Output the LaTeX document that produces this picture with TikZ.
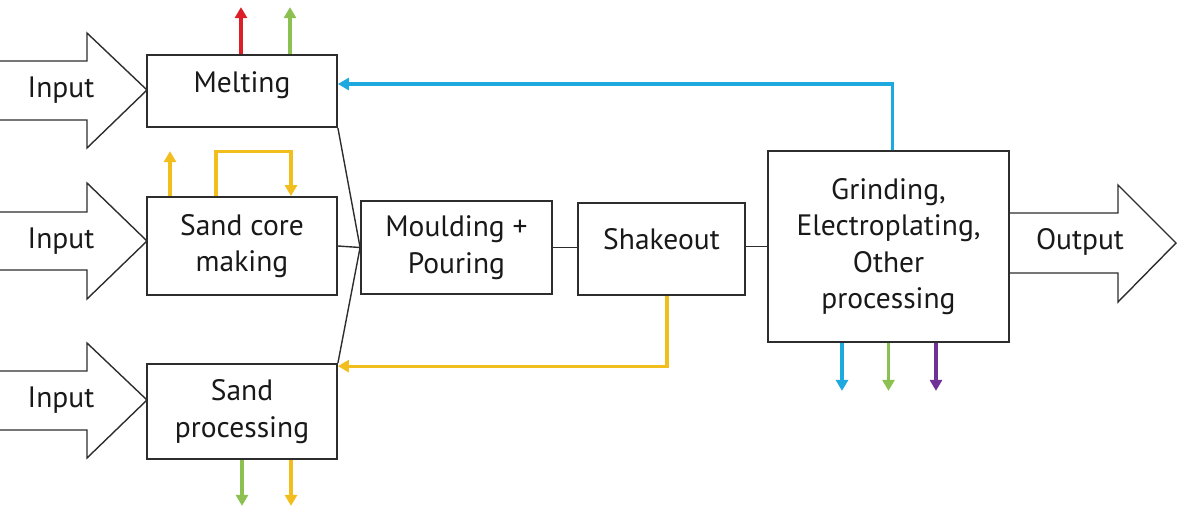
\documentclass[tikz,border=0pt]{standalone}
\usepackage{fontspec}
\setmainfont{PT Sans}
\usetikzlibrary{arrows.meta}
\definecolor{cred}{RGB}{220,30,38}
\definecolor{cgreen}{RGB}{140,192,80}
\definecolor{cyel}{RGB}{242,190,30}
\definecolor{cblue}{RGB}{30,170,222}
\definecolor{cpurp}{RGB}{112,50,152}
\definecolor{boxc}{RGB}{45,45,45}
\definecolor{txtc}{RGB}{25,25,25}
\begin{document}
\begin{tikzpicture}[x=1pt,y=-1pt,
  box/.style={draw=boxc, line width=1.8pt, fill=white, align=center, text=txtc,
    font=\fontsize{29.5}{36.5}\selectfont, inner sep=0pt},
  lbl/.style={font=\fontsize{29.5}{36.5}\selectfont, inner sep=0pt, text=txtc},
  conn/.style={draw=boxc, line width=1.4pt},
  bigarrow/.style={draw=boxc, line width=1.4pt, line join=miter},
  flow/.style={line width=3.2pt, -{Triangle[width=12pt,length=11pt]}}]
\useasboundingbox (0,0) rectangle (1178,507);

% big input/output arrows
\draw[bigarrow] (0,61) -- (87,61) -- (87,33) -- (147,90) -- (87,148) -- (87,120) -- (0,120);
\draw[bigarrow] (0,212) -- (87,212) -- (87,183) -- (147,241) -- (87,299) -- (87,270) -- (0,270);
\draw[bigarrow] (0,371) -- (87,371) -- (87,343) -- (147,400) -- (87,458) -- (87,430) -- (0,430);
\draw[bigarrow] (1009,213) -- (1118,213) -- (1118,185) -- (1176,243) -- (1118,302) -- (1118,273) -- (1009,273);
\node[lbl] (in1) at (61,90) {Input};
\node[lbl] (in2) at (61,241) {Input};
\node[lbl] (in3) at (61,400) {Input};
\node[lbl] (out) at (1080,242) {Output};

% boxes
\node[box, minimum width=190pt, text height=37pt, text depth=35pt] (melt) at (242,91) {Melting};
\node[box, minimum width=190pt, minimum height=98pt] (core) at (242,246) {Sand core\\making};
\node[box, minimum width=190pt, minimum height=95pt] (proc) at (242,411.5) {Sand\\processing};
\node[box, minimum width=191pt, minimum height=93pt] (mould) at (456.5,247.5) {Moulding +\\Pouring};
\node[box, minimum width=167pt, text height=46pt, text depth=46pt] (shake) at (661.5,249) {Shakeout};
\node[box, minimum width=241pt, minimum height=191pt] (grind) at (888.5,246.5) {Grinding,\\Electroplating,\\Other\\processing};

% black connectors
\draw[conn] (melt.south east) -- (mould.west);
\draw[conn] (core.east) -- (mould.west);
\draw[conn] (proc.north east) -- (mould.west);
\draw[conn] (mould.east) -- (mould.east -| shake.west);
\draw[conn] (shake.east |- grind.west) -- (grind.west);

% feedback flows
\draw[flow, cblue] ([xshift=4pt]grind.north) |- ([yshift=7pt]melt.east);
\draw[flow, cyel] ([xshift=5.5pt]shake.south) |- ([yshift=-3pt]proc.north east);

% emissions / flows
\draw[flow, cred] ([xshift=-1pt]melt.north) -- ++(0,-47);
\draw[flow, cgreen] ([xshift=48pt]melt.north) -- ++(0,-47);
\draw[flow, cyel] ([xshift=-72pt]core.north) -- ++(0,-45);
\draw[flow, cyel] ([xshift=-26pt]core.north) -- ++(0,-45) -| ([xshift=49pt]core.north);
\draw[flow, cgreen] (proc.south) -- ++(0,46);
\draw[flow, cyel] ([xshift=49pt]proc.south) -- ++(0,46);
\draw[flow, cblue] ([xshift=-46.5pt]grind.south) -- ++(0,48);
\draw[flow, cgreen] (grind.south) -- ++(0,48);
\draw[flow, cpurp] ([xshift=47.5pt]grind.south) -- ++(0,48);
\end{tikzpicture}
\end{document}
